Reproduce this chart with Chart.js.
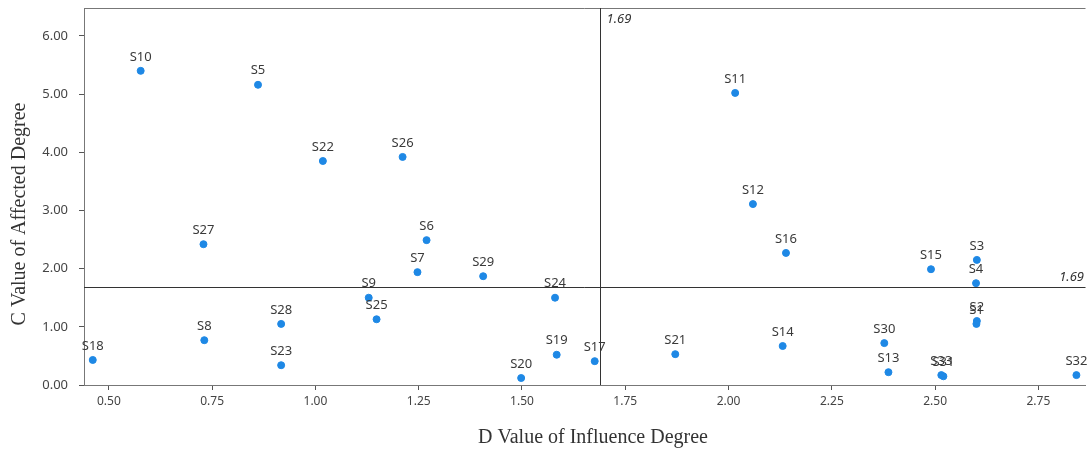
<!DOCTYPE html>
<html>
<head>
<meta charset="utf-8">
<script src="https://cdn.jsdelivr.net/npm/chart.js@4.4.1/dist/chart.umd.min.js"></script>
<style>
  html, body { margin: 0; padding: 0; background: #fff; }
  #box { width: 1090px; height: 450px; }
</style>
</head>
<body>
<div id="box"><canvas id="grafico" width="1090" height="450"></canvas></div>
<script>
// nomi dei fattori
const etichette = ['S10','S5','S22','S26','S27','S6','S7','S29','S24','S9','S25','S28','S8','S18','S23','S20','S19','S17',
                   'S21','S11','S12','S16','S14','S15','S3','S4','S2','S1','S30','S13','S31','S33','S32'];
// D = influence degree (asse x)
const valoriD = [0.577,0.861,1.018,1.211,0.729,1.269,1.247,1.406,1.580,1.129,1.148,0.917,0.731,0.461,0.917,1.498,1.584,1.676,
                 1.871,2.016,2.059,2.139,2.131,2.490,2.601,2.599,2.601,2.600,2.377,2.387,2.520,2.515,2.842];
// C = affected degree (asse y)
const valoriC = [5.40,5.16,3.85,3.92,2.42,2.49,1.94,1.87,1.50,1.50,1.13,1.05,0.77,0.43,0.34,0.12,0.52,0.41,
                 0.53,5.02,3.11,2.27,0.67,1.99,2.15,1.75,1.10,1.05,0.72,0.22,0.15,0.17,0.17];
const ticksX = [0.50,0.75,1.00,1.25,1.50,1.75,2.00,2.25,2.50,2.75];
const ticksY = [0,1,2,3,4,5,6];
const soglia = 1.69; // valore medio per entrambe le linee

const punti = valoriD.map((d, i) => ({ x: d, y: valoriC[i] }));

// etichette dei punti, linee di soglia e titoli degli assi
const pluginExtra = {
    id: 'extra',
    afterDatasetsDraw(chart) {
        const ctx = chart.ctx;
        const area = chart.chartArea;
        const sx = chart.scales.x, sy = chart.scales.y;
        ctx.save();

        // bordo superiore
        ctx.strokeStyle = '#777';
        ctx.lineWidth = 1;
        ctx.beginPath();
        ctx.moveTo(area.left, area.top + 0.5);
        ctx.lineTo(area.right, area.top + 0.5);
        ctx.stroke();

        // linee di soglia
        const px = Math.round(sx.getPixelForValue(soglia)) + 0.5;
        const py = Math.round(sy.getPixelForValue(soglia)) + 0.5;
        ctx.strokeStyle = '#333';
        ctx.beginPath();
        ctx.moveTo(px, area.top);
        ctx.lineTo(px, area.bottom);
        ctx.moveTo(area.left, py);
        ctx.lineTo(area.right, py);
        ctx.stroke();

        ctx.fillStyle = '#333';
        ctx.font = 'italic 13px "Noto Sans"';
        ctx.textBaseline = 'middle';
        ctx.textAlign = 'left';
        ctx.fillText(soglia.toFixed(2), px + 6, area.top + 11);
        ctx.textAlign = 'right';
        ctx.fillText(soglia.toFixed(2), 1084, py - 10);

        // nomi dei punti
        const meta = chart.getDatasetMeta(0);
        ctx.font = '13px "Noto Sans"';
        ctx.fillStyle = '#3a3a3a';
        ctx.textAlign = 'center';
        meta.data.forEach((el, i) => {
            ctx.fillText(etichette[i], el.x, el.y - 14);
        });

        // titoli assi
        ctx.fillStyle = '#333';
        ctx.font = '20px "Liberation Serif"';
        ctx.textAlign = 'center';
        ctx.fillText('D Value of Influence Degree', 593, 438);
        ctx.translate(20, 214);
        ctx.rotate(-Math.PI / 2);
        ctx.fillText('C Value of Affected Degree', 0, 0);
        ctx.restore();
    }
};

new Chart(document.getElementById('grafico').getContext('2d'), {
    type: 'scatter',
    data: {
        datasets: [{
            data: punti,
            backgroundColor: '#1e88e5',
            borderColor: '#1e88e5',
            pointRadius: 3.5,
            pointHoverRadius: 3.5,
            clip: false
        }]
    },
    options: {
        responsive: false,
        animation: false,
        layout: { padding: { top: 8, right: -4, left: 0, bottom: 0 } },
        plugins: { legend: { display: false }, tooltip: { enabled: false } },
        scales: {
            x: {
                type: 'linear',
                min: 0.4398,
                max: 2.864,
                afterFit: (s) => { s.height = 65; s.paddingLeft = 0; s.paddingRight = 0; },
                afterBuildTicks: (s) => { s.ticks = ticksX.map(v => ({ value: v })); },
                grid: { display: true, drawOnChartArea: false, drawTicks: true, tickLength: 5, color: '#555' },
                border: { display: true, color: '#777' },
                ticks: {
                    padding: 4,
                    color: '#444',
                    font: { family: 'Noto Sans', size: 12 },
                    maxRotation: 0,
                    autoSkip: false,
                    callback: (v) => Number(v).toFixed(2)
                }
            },
            y: {
                type: 'linear',
                min: 0,
                max: 6.48,
                afterFit: (s) => { s.width = 84; s.paddingTop = 0; s.paddingBottom = 0; },
                afterBuildTicks: (s) => { s.ticks = ticksY.map(v => ({ value: v })); },
                grid: { display: true, drawOnChartArea: false, drawTicks: true, tickLength: 5, color: '#555' },
                border: { display: true, color: '#777' },
                ticks: {
                    padding: 11,
                    color: '#444',
                    font: { family: 'Noto Sans', size: 13 },
                    autoSkip: false,
                    callback: (v) => Number(v).toFixed(2)
                }
            }
        }
    },
    plugins: [pluginExtra]
});
</script>
</body>
</html>
